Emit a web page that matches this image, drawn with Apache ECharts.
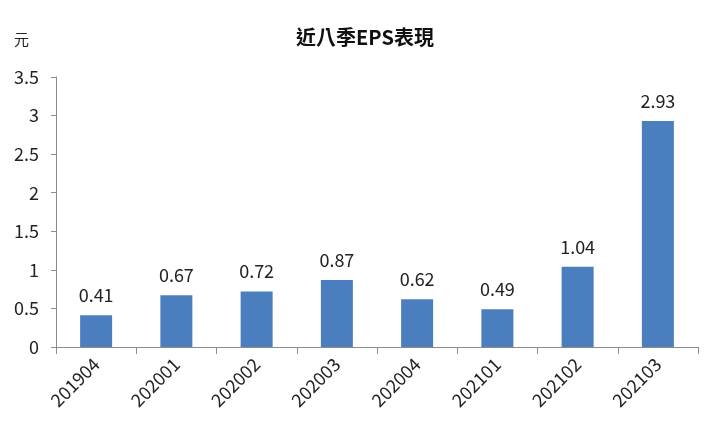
<!DOCTYPE html>
<html>
<head>
    <meta charset="utf-8">
    <title>近八季EPS表現</title>
    <script src="https://cdn.jsdelivr.net/npm/echarts@6/dist/echarts.min.js"></script>
    <style>
        html, body { margin: 0; padding: 0; background: #fff; }
        #chart1 { width: 720px; height: 434px; }
    </style>
</head>
<body>
<div id="chart1"></div>
<script type="text/javascript">
    // 季度
    let quarters = ['201904', '202001', '202002', '202003', '202004', '202101', '202102', '202103'];
    // 每股盈餘 (元)
    let epsValues = [0.41, 0.67, 0.72, 0.87, 0.62, 0.49, 1.04, 2.93];

    let font = '"Noto Sans CJK TC", "Noto Sans", sans-serif';
    let myChart1 = echarts.init(document.getElementById('chart1'));

    myChart1.setOption({
        animation: false,
        textStyle: { fontFamily: font },
        title: {
            text: '近八季EPS表現',
            left: 360,
            top: 22,
            textAlign: 'center',
            textStyle: { fontSize: 20, fontWeight: 'bold', color: '#111', fontFamily: font }
        },
        grid: { left: 56, right: 22, top: 77, bottom: 87, containLabel: false },
        xAxis: {
            type: 'category',
            data: quarters,
            axisLine: { lineStyle: { color: '#8c8c8c', width: 1 } },
            axisTick: { show: true, alignWithLabel: false, length: 7, lineStyle: { color: '#8c8c8c' } },
            axisLabel: { rotate: 45, fontSize: 18, color: '#222', margin: 14, fontFamily: font }
        },
        yAxis: {
            type: 'value',
            name: '元',
            nameLocation: 'end',
            nameGap: 0,
            nameTextStyle: { fontSize: 15, color: '#222', align: 'left', padding: [0, 0, 30, -42] },
            min: 0,
            max: 3.5,
            interval: 0.5,
            splitLine: { show: false },
            axisLine: { show: true, lineStyle: { color: '#8c8c8c', width: 1 } },
            axisTick: { show: true, inside: false, length: 5, lineStyle: { color: '#8c8c8c' } },
            axisLabel: { fontSize: 18, color: '#222', margin: 17, fontFamily: font }
        },
        series: [{
            name: 'EPS',
            type: 'bar',
            data: epsValues,
            barWidth: 32,
            itemStyle: { color: '#4a7ebf' },
            label: {
                show: true,
                position: 'top',
                distance: 11,
                fontSize: 18,
                color: '#222',
                fontFamily: font
            }
        }]
    });
</script>
</body>
</html>
